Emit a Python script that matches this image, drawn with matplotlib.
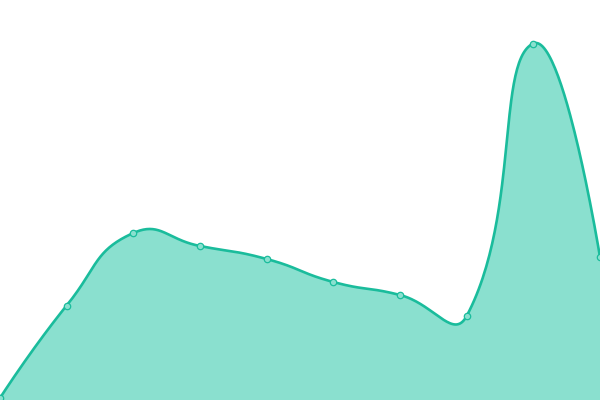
import numpy as np
import matplotlib
matplotlib.use("Agg")
import matplotlib.pyplot as plt

values = [2, 94.5, 167, 154, 141, 118, 105, 84, 356.5, 143]
ymax = 400

LINE = "#1abc9c"
FILL = "#8ae0cf"

n = len(values)
xs = np.linspace(0, 600, n)
ys = np.array(values, dtype=float)

smooth = 0.5
cps = []
for i in range(n):
    x, y = xs[i], ys[i]
    if i == 0 or i == n - 1:
        cps.append(((x, y), (x, y)))
        continue
    px, py = xs[i - 1], ys[i - 1]
    nx, ny = xs[i + 1], ys[i + 1]
    vx, vy = nx - px, ny - py
    lp = np.hypot(x - px, y - py)
    ln = np.hypot(nx - x, ny - y)
    r = ln / (ln + lp)
    c0 = (x - vx * smooth * (1 - r), y - vy * smooth * (1 - r))
    c1 = (x + vx * smooth * r, y + vy * smooth * r)
    cps.append((c0, c1))

cx, cy = [], []
t = np.linspace(0, 1, 60)
for i in range(n - 1):
    p0 = np.array([xs[i], ys[i]])
    p1 = np.array(cps[i][1])
    p2 = np.array(cps[i + 1][0])
    p3 = np.array([xs[i + 1], ys[i + 1]])
    tt = t[:, None]
    pts = ((1 - tt) ** 3) * p0 + 3 * ((1 - tt) ** 2) * tt * p1 + 3 * (1 - tt) * tt ** 2 * p2 + tt ** 3 * p3
    cx.extend(pts[:, 0]); cy.extend(pts[:, 1])
cx = np.array(cx); cy = np.array(cy)

fig = plt.figure(figsize=(6, 4), dpi=100)
ax = fig.add_axes([0, 0, 1, 1])
ax.fill_between(cx, 0, cy, color=FILL, lw=0, zorder=1)
ax.plot(cx, cy, color=LINE, lw=1.9, zorder=2, solid_capstyle="round")
ax.plot(xs, ys, "o", ms=4.6, mfc=FILL, mec=LINE, mew=0.9, zorder=3, clip_on=False)
ax.set_xlim(0, 600)
ax.set_ylim(0, ymax)
ax.axis("off")
fig.savefig("out.png", dpi=100)
